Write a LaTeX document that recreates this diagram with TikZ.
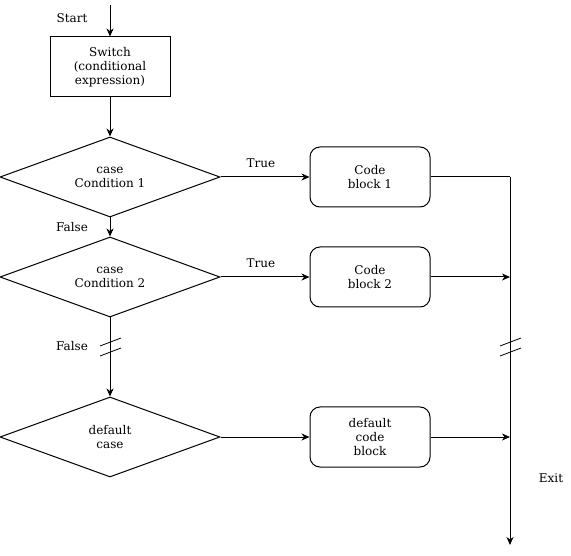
\documentclass[tikz,border=0pt]{standalone}
\usepackage{fontspec}
\setmainfont{DejaVu Serif}
\usetikzlibrary{arrows.meta,shapes.geometric}
\begin{document}
\begin{tikzpicture}[x=1pt,y=-1pt,
  every node/.style={font=\fontsize{12}{14}\selectfont, align=center},
  line/.style={line width=1pt},
  arr/.style={line width=1pt, -{Stealth[length=8pt,width=7pt,inset=2.5pt]}},
  procbox/.style={draw, line width=1pt, minimum width=120pt, minimum height=60pt, inner sep=0pt},
  codebox/.style={procbox, rounded corners=10pt},
  decision/.style={draw, line width=1pt, diamond, aspect=2.75, minimum width=220pt, minimum height=80pt, inner sep=0pt},
  txt/.style={inner sep=0pt}]
\useasboundingbox (0,0) rectangle (571,556);
% nodes
\node[procbox] (sw) at (110,67) {Switch\\(conditional\\expression)};
\node[decision] (d1) at (110,177) {case\\Condition 1};
\node[decision] (d2) at (110,277) {case\\Condition 2};
\node[decision] (d3) at (110,437) {default\\case};
\node[codebox] (c1) at (370,177) {Code\\block 1};
\node[codebox] (c2) at (370,277) {Code\\block 2};
\node[codebox] (c3) at (370,437) {default\\code\\block};
% coordinates
\coordinate (start) at (110,5);
\coordinate (j1) at (510,177);
\coordinate (j2) at (510,277);
\coordinate (j3) at (510,437);
\coordinate (exit) at (510,545);
% labels
\node[txt] (lstart) at (72,18) {Start};
\node[txt] (lf1) at (72,227) {False};
\node[txt] (lf2) at (72,346) {False};
\node[txt] (lt1) at (261,163) {True};
\node[txt] (lt2) at (261,263) {True};
\node[txt] (lexit) at (551,478) {Exit};
% connectors
\draw[arr] (start) -- (sw.north);
\draw[arr] (sw.south) -- (d1.north);
\draw[arr] (d1.south) -- (d2.north);
\draw[arr] (d2.south) -- (d3.north);
\draw[arr] (d1.east) -- (c1.west);
\draw[arr] (d2.east) -- (c2.west);
\draw[arr] (d3.east) -- (c3.west);
\draw[line] (c1.east) -- (j1);
\draw[arr] (j1) -- (exit);
\draw[arr] (c2.east) -- (j2);
\draw[arr] (c3.east) -- (j3);
% break marks
\foreach \x in {110,510}{
  \draw[line width=0.8pt] (\x-10,346) -- (\x+11,338);
  \draw[line width=0.8pt] (\x-10,356) -- (\x+11,348);
}
\end{tikzpicture}
\end{document}
